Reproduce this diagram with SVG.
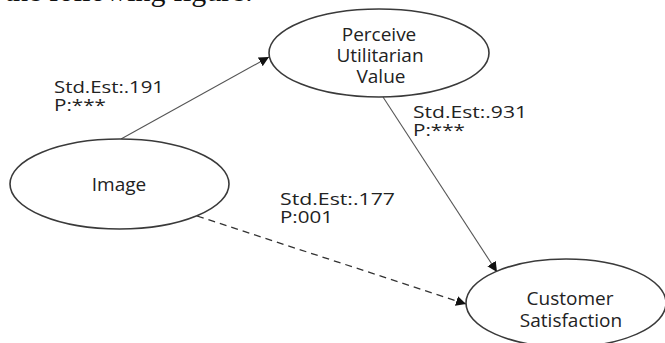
<svg xmlns="http://www.w3.org/2000/svg" width="665" height="343" viewBox="0 0 665 343">
  <style>
    .bg { fill: #ffffff; }
    .node { fill: #ffffff; stroke: #3a3a3a; stroke-width: 1.6; }
    .name { font-family: "Open Sans", "DejaVu Sans", sans-serif; font-size: 19px; fill: #222; text-anchor: middle; }
    .lbl { font-family: "Open Sans", "DejaVu Sans", sans-serif; font-size: 17px; fill: #222; }
    .edge { fill: none; stroke: #555; stroke-width: 1.1; }
    .dash { stroke-dasharray: 7 5; stroke: #333; stroke-width: 1.3; }
    .caption { font-family: "Liberation Serif", "Times New Roman", serif; font-size: 30px; fill: #111; }
  </style>
  <defs>
    <marker id="arrow" viewBox="0 0 10 10" refX="10" refY="5" markerWidth="10" markerHeight="10" markerUnits="userSpaceOnUse" orient="auto">
      <path d="M0,0 L10,5 L0,10 z" fill="#111"/>
    </marker>
  </defs>
  <rect class="bg" x="0" y="0" width="665" height="343"/>

  <!-- running text of the page, clipped at the top edge -->
  <text class="caption" x="253" y="1" text-anchor="end">the following figure:</text>

  <!-- connectors -->
  <g id="connectors">
    <line class="edge" x1="121" y1="139" x2="269" y2="57" marker-end="url(#arrow)"/>
    <line class="edge" x1="383" y1="97" x2="497" y2="272" marker-end="url(#arrow)"/>
    <line class="edge dash" x1="197" y1="216" x2="466" y2="304" marker-end="url(#arrow)"/>
  </g>

  <!-- path labels -->
  <g id="labels">
    <text class="lbl" x="54" y="93" textLength="110" lengthAdjust="spacingAndGlyphs">Std.Est:.191</text>
    <text class="lbl" x="54" y="111" textLength="52" lengthAdjust="spacingAndGlyphs">P:***</text>
    <text class="lbl" x="413" y="118" textLength="114" lengthAdjust="spacingAndGlyphs">Std.Est:.931</text>
    <text class="lbl" x="413" y="136" textLength="52" lengthAdjust="spacingAndGlyphs">P:***</text>
    <text class="lbl" x="280" y="205" textLength="115" lengthAdjust="spacingAndGlyphs">Std.Est:.177</text>
    <text class="lbl" x="280" y="223" textLength="53" lengthAdjust="spacingAndGlyphs">P:001</text>
  </g>

  <g id="image">
    <ellipse class="node" cx="119.5" cy="184" rx="109.5" ry="45"/>
    <text class="name" x="119" y="191">Image</text>
  </g>

  <g id="perceive-utilitarian-value">
    <ellipse class="node" cx="379" cy="53" rx="110" ry="44"/>
    <text class="name" x="379" y="41">Perceive</text>
    <text class="name" x="380" y="62">Utilitarian</text>
    <text class="name" x="381" y="83">Value</text>
  </g>

  <g id="customer-satisfaction">
    <ellipse class="node" cx="566" cy="303" rx="100" ry="44"/>
    <text class="name" x="570" y="305">Customer</text>
    <text class="name" x="571" y="327">Satisfaction</text>
  </g>
</svg>
